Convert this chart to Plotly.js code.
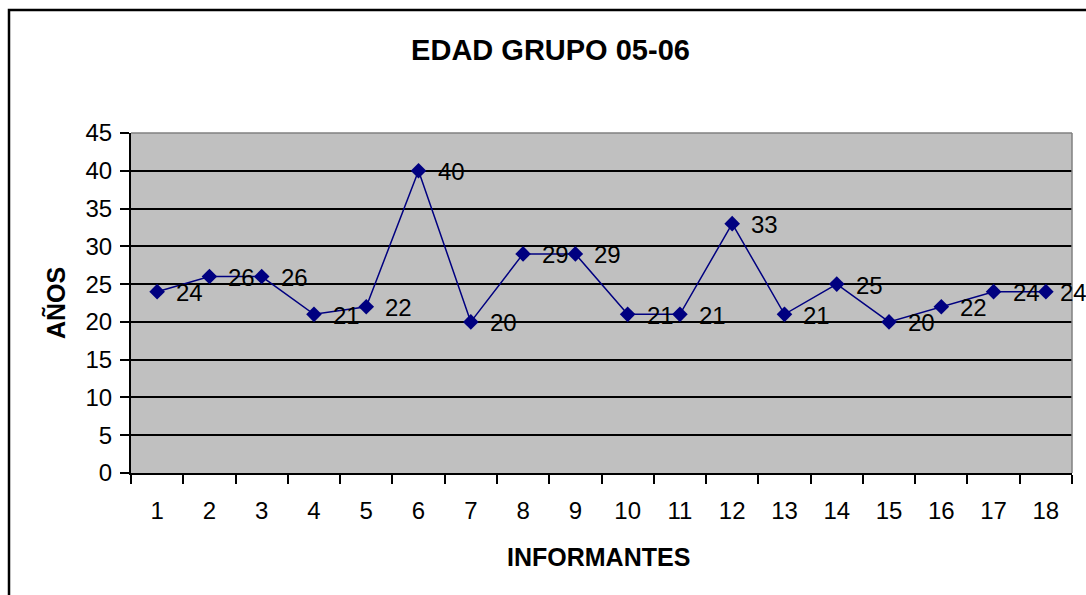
<!DOCTYPE html>
<html>
<head>
<meta charset="utf-8">
<script src="https://cdn.plot.ly/plotly-3.0.1.min.js"></script>
<style>
html,body{margin:0;padding:0;background:#fff;}
#chart{width:1086px;height:595px;}
</style>
</head>
<body>
<div id="chart"></div>
<script>
const categories = ['1','2','3','4','5','6','7','8','9','10','11','12','13','14','15','16','17','18'];
const ages = [24,26,26,21,22,40,20,29,29,21,21,33,21,25,20,22,24,24];
const yTicks = [0,5,10,15,20,25,30,35,40,45];
const titleText = 'EDAD GRUPO 05-06';
const xTitle = 'INFORMANTES';
const yTitle = 'AÑOS';

const FONT = 'Arial, "Liberation Sans", sans-serif';
const NAVY = '#000080';

const trace = {
  x: categories,
  y: ages,
  type: 'scatter',
  mode: 'lines+markers',
  line: {color: NAVY, width: 1.5},
  marker: {symbol: 'diamond', size: 12, color: NAVY},
  hoverinfo: 'x+y',
  showlegend: false
};

const last = categories.length - 1;
const labelAnns = categories.map((c, i) => ({
  x: i, y: ages[i], xref: 'x', yref: 'y',
  text: String(ages[i]), showarrow: false,
  xanchor: 'left', yanchor: 'middle',
  xshift: i === last ? 12 : 17, yshift: -1,
  font: {family: FONT, size: 24, color: '#000'}
}));

const layout = {
  width: 1086, height: 595,
  margin: {l: 131, r: 14, t: 133, b: 122, pad: 0},
  paper_bgcolor: '#ffffff',
  plot_bgcolor: '#c0c0c0',
  font: {family: FONT, size: 24, color: '#000'},
  title: {
    text: '<b>' + titleText + '</b>',
    font: {family: FONT, size: 29, color: '#000'},
    x: 550.5/1086, xref: 'container', xanchor: 'center',
    y: 1 - 50/595, yref: 'container', yanchor: 'middle'
  },
  xaxis: {
    type: 'category',
    range: [-0.5, 17.5],
    tickson: 'boundaries',
    ticks: 'outside', ticklen: 9, tickwidth: 2, tickcolor: '#000',
    showline: true, linecolor: '#000', linewidth: 2,
    showgrid: false, zeroline: false,
    tickfont: {family: FONT, size: 24, color: '#000'},
    ticklabelstandoff: 15,
    fixedrange: true
  },
  yaxis: {
    range: [0, 45],
    tickvals: yTicks,
    ticktext: yTicks.map(String),
    ticks: 'outside', ticklen: 9, tickwidth: 2, tickcolor: '#000',
    showline: true, linecolor: '#000', linewidth: 2,
    showgrid: true, gridcolor: '#000', gridwidth: 2,
    zeroline: false,
    tickfont: {family: FONT, size: 24, color: '#000'},
    ticklabelstandoff: 3,
    fixedrange: true
  },
  shapes: [
    {type: 'line', xref: 'paper', yref: 'paper', x0: 0, x1: 1, y0: 1, y1: 1,
     line: {color: '#808080', width: 1.5}},
    {type: 'line', xref: 'paper', yref: 'paper', x0: 1, x1: 1, y0: 0, y1: 1,
     line: {color: '#808080', width: 1.5}},
    {type: 'rect', xref: 'paper', yref: 'paper',
     x0: (9 - 131)/941, x1: 1.05, y0: -0.5, y1: (473 - 10)/340,
     line: {color: '#000', width: 2.5}, fillcolor: 'rgba(0,0,0,0)', layer: 'above'}
  ],
  annotations: labelAnns.concat([
    {text: '<b>' + xTitle + '</b>', xref: 'paper', yref: 'paper',
     x: (598 - 131)/941, y: (473 - 557)/340, xanchor: 'center', yanchor: 'middle',
     showarrow: false, font: {family: FONT, size: 25, color: '#000'}},
    {text: '<b>' + yTitle + '</b>', xref: 'paper', yref: 'paper',
     x: (55 - 131)/941, y: (473 - 303)/340, xanchor: 'center', yanchor: 'middle',
     textangle: -90, showarrow: false, font: {family: FONT, size: 25, color: '#000'}}
  ]),
  hovermode: 'closest'
};

Plotly.newPlot('chart', [trace], layout, {displayModeBar: false});
</script>
</body>
</html>
